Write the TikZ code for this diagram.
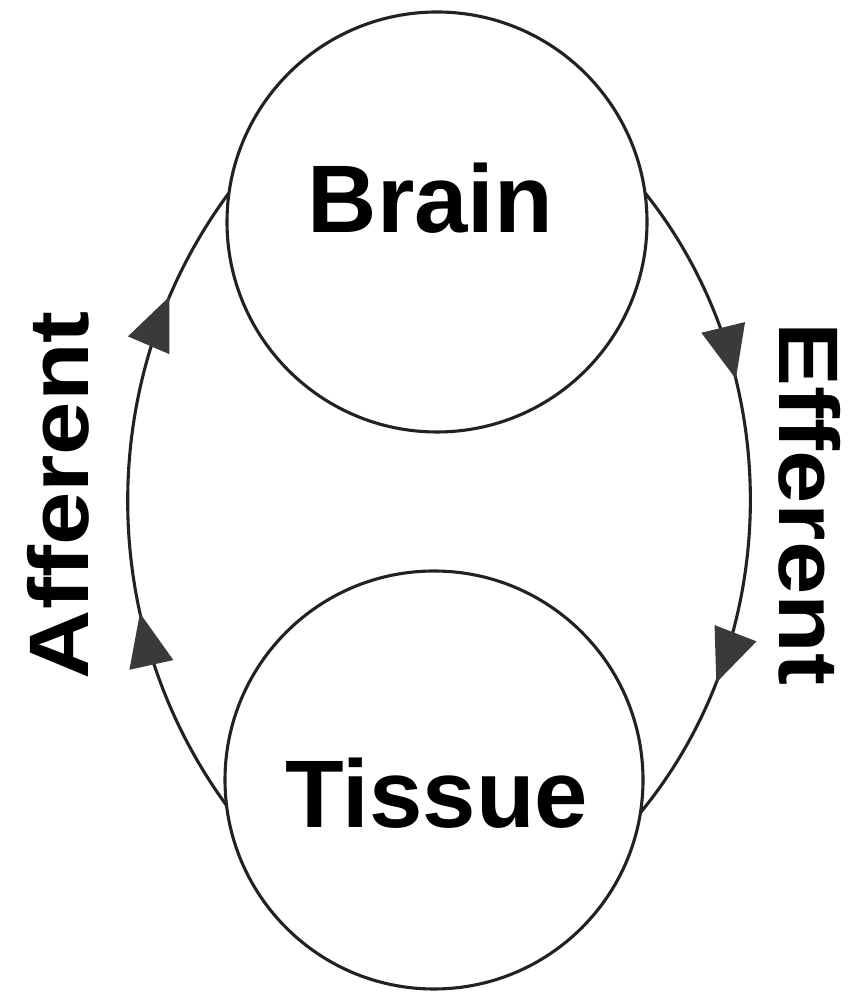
\documentclass[tikz,border=0pt]{standalone}
\usepackage{fontspec}
\setmainfont{Liberation Sans}
\usetikzlibrary{decorations.markings}
\definecolor{linec}{HTML}{222222}
\definecolor{headc}{HTML}{3A3A3C}
\newcommand\arrowtri{\fill[headc] (0pt,0pt) -- (-53pt,22.5pt) -- (-53pt,-22.5pt) -- cycle;}
\begin{document}
\begin{tikzpicture}[x=1pt,y=1pt,
  orb/.style={circle, draw=linec, line width=3.1pt, inner sep=0pt, outer sep=0pt},
  lbl/.style={font=\fontsize{96}{110}\selectfont\bfseries, inner sep=0pt, outer sep=0pt},
  flow/.style={draw=linec, line width=3.1pt, looseness=0.94}
]
\fill[white] (0,0) rectangle (864,992);
\useasboundingbox (0,0) rectangle (864,992);

\node[orb, minimum size=420pt] (brain) at (437,770) {};
\node[orb, minimum size=418pt] (tissue) at (434,212) {};

\node[lbl] (brainlbl) at (430.5,794) {Brain};
\node[lbl] (tissuelbl) at (437,199) {Tissue};

\node[lbl, rotate=90] (aff) at (58,497) {\scalebox{1}[0.88]{Afferent}};
\node[lbl, rotate=-90] (eff) at (810,488) {\scalebox{1}[0.88]{Efferent}};

\draw[flow, postaction={decorate}, decoration={markings,
    mark=at position 0.324 with {\arrowtri},
    mark=at position 0.817 with {\arrowtri}}]
  (tissue.187.3) to[bend left=36.3] (brain.172.1);

\draw[flow, postaction={decorate}, decoration={markings,
    mark=at position 0.312 with {\arrowtri},
    mark=at position 0.774 with {\arrowtri}}]
  (brain.8.7) to[bend left=39] (tissue.-9);
\end{tikzpicture}
\end{document}
